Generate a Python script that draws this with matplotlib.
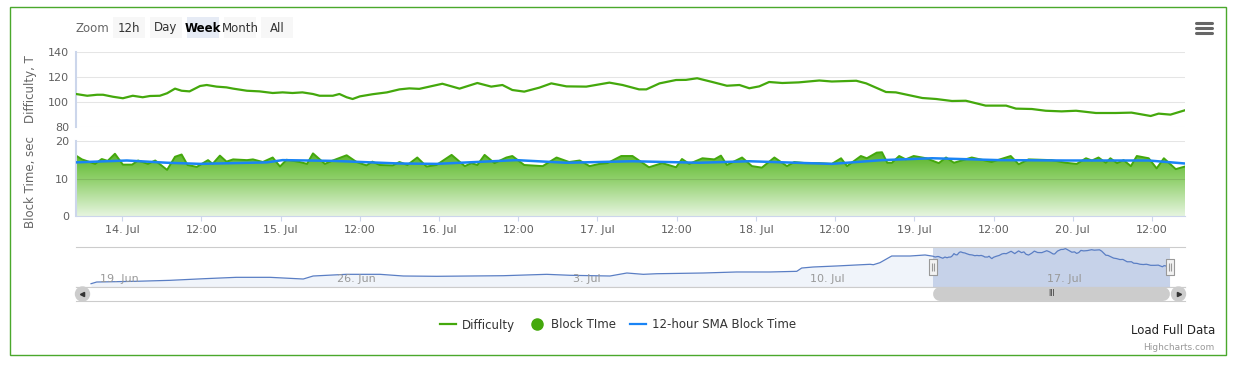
import numpy as np
import pandas as pd
import matplotlib
matplotlib.use('Agg')
import matplotlib.pyplot as plt
import matplotlib.dates as mdates
from matplotlib.colors import LinearSegmentedColormap
from matplotlib.lines import Line2D
from matplotlib.patches import Polygon, Rectangle, Circle
from matplotlib.path import Path
from matplotlib.transforms import blended_transform_factory, offset_copy

W, H = 1235, 371

start = pd.Timestamp('2016-07-13 17:00')   # left edge of the "Week" view
view_hours = 168

# difficulty (T), hours from start
diff_h = [0, 1.7, 3.2, 4.1, 5.6, 7.1, 8.6, 10.1, 11.2, 12.7, 13.8, 15.0, 16.0, 17.2, 18.8, 19.8, 21.3, 22.8, 23.8, 25.9,
          27.8, 29.8, 31.3, 32.8, 34.3, 35.9, 36.9, 38.9, 39.9, 41.0, 41.9, 43.0, 44.9, 47.1, 49.0, 50.5, 52.0, 55.5, 58.1, 60.8,
          62.9, 64.6, 66.1, 67.9, 70.2, 72.0, 74.3, 77.3, 80.8, 82.8, 85.3, 86.4, 88.4, 90.9, 92.4, 94.1, 96.4, 98.6, 100.5, 102.0,
          103.5, 105.0, 107.0, 109.5, 112.6, 114.5, 118.2, 119.7, 122.7, 124.2, 128.2, 130.3, 132.7, 134.8, 137.8, 140.9, 142.4, 144.8, 146.9, 149.3,
          151.5, 154.5, 157.5, 159.9, 162.8, 164.0, 165.8, 168.0]
diff_v = [106.4, 105.0, 105.8, 105.8, 104.2, 103.0, 105.0, 103.8, 104.8, 105.0, 107.0, 110.7, 109.0, 108.5, 112.8, 113.6, 112.3, 111.7, 110.7, 109.0,
          108.5, 107.2, 107.7, 107.2, 107.7, 106.4, 105.0, 105.0, 106.4, 103.8, 102.4, 104.5, 106.2, 107.7, 110.1, 110.9, 110.5, 114.6, 110.7, 115.2,
          112.3, 113.6, 109.6, 108.3, 111.5, 114.9, 112.5, 112.3, 115.5, 113.6, 110.1, 110.1, 114.9, 117.6, 117.7, 119.0, 116.0, 113.0, 113.6, 111.0,
          112.5, 116.0, 115.2, 115.7, 117.2, 116.4, 117.0, 114.9, 108.0, 107.7, 103.2, 102.4, 100.8, 101.0, 97.1, 97.1, 94.7, 94.4, 93.0, 92.5,
          93.0, 91.2, 91.2, 91.5, 88.8, 90.7, 89.9, 93.4]

# block time (sec)
bt_h = [0, 0.9, 2.9, 3.9, 4.8, 5.9, 7.1, 8.5, 9.4, 10.9, 12.0, 13.8, 15.0, 16.0, 16.9, 18.3, 20.0, 20.7, 21.8, 22.8,
        23.8, 25.9, 26.8, 28.3, 29.8, 30.9, 31.9, 33.9, 35.0, 35.9, 37.7, 38.9, 41.0, 42.5, 44.0, 44.9, 46.0, 48.0, 49.0, 50.2,
        51.7, 53.1, 54.6, 56.9, 58.9, 59.9, 60.8, 61.9, 63.4, 65.2, 66.1, 67.9, 70.7, 72.8, 74.7, 76.3, 77.8, 79.3, 80.5, 82.6,
        84.3, 86.8, 88.8, 90.9, 91.8, 92.9, 94.9, 96.7, 97.7, 98.6, 100.9, 102.4, 103.9, 105.8, 107.7, 108.8, 110.5, 112.6, 114.5, 115.9,
        116.8, 118.9, 119.8, 121.3, 122.1, 122.9, 123.6, 124.7, 125.7, 126.9, 128.8, 130.7, 131.8, 133.0, 135.7, 138.7, 141.6, 142.8, 144.3, 147.8,
        149.9, 151.6, 153.0, 153.9, 154.9, 156.0, 156.7, 157.7, 158.7, 159.8, 160.7, 162.5, 163.7, 164.8, 166.6, 168.0]
bt_v = [16.1, 15.1, 13.9, 15.2, 14.7, 16.6, 13.7, 13.7, 14.8, 13.9, 14.8, 12.3, 15.8, 16.4, 13.6, 13.1, 14.9, 13.9, 16.1, 14.5,
        15.1, 14.9, 15.1, 14.4, 15.6, 13.2, 15.0, 14.4, 13.9, 16.7, 13.9, 14.8, 16.2, 14.4, 13.5, 14.5, 13.6, 13.5, 14.4, 13.6,
        15.6, 13.2, 13.6, 16.3, 13.3, 14.1, 13.6, 16.3, 14.1, 15.6, 16.0, 13.6, 13.3, 15.6, 14.4, 14.8, 13.3, 13.9, 14.1, 16.0,
        16.0, 13.0, 14.1, 13.0, 15.2, 13.9, 15.4, 15.1, 16.1, 13.6, 15.6, 13.3, 12.9, 15.6, 13.3, 14.4, 14.1, 14.1, 13.9, 15.4,
        13.3, 16.0, 15.4, 16.9, 17.0, 14.2, 14.2, 16.0, 15.1, 16.0, 15.4, 14.1, 15.6, 14.2, 15.6, 14.4, 16.0, 13.8, 15.1, 14.9,
        14.2, 13.9, 15.4, 14.8, 15.6, 14.2, 15.4, 14.1, 14.9, 13.3, 16.0, 15.4, 12.7, 15.4, 12.5, 13.2]

# 12-hour SMA of block time
sma_h = [0, 7.7, 13.8, 18.8, 28.9, 31.3, 38.9, 49.0, 54.6, 66.7, 74.3, 84.3, 94.4, 102.0, 112.6, 114.5, 122.1, 129.7,
         139.8, 149.9, 162.5, 168.0]
sma_v = [14.3, 14.8, 14.2, 13.9, 14.3, 14.9, 14.7, 14.0, 13.9, 14.9, 14.2, 14.6, 14.2, 14.6, 14.0, 13.9, 14.9, 15.4,
         14.9, 14.8, 14.8, 14.0]

# navigator: difficulty history before the visible week
nav_times = ['2016-06-18 20:00', '2016-06-19 00:00', '2016-06-20 04:00', '2016-06-21 04:00', '2016-06-22 04:00',
             '2016-06-23 03:00', '2016-06-24 03:00', '2016-06-25 02:30', '2016-06-25 09:30', '2016-06-26 09:00',
             '2016-06-27 09:00', '2016-06-28 01:30', '2016-06-29 01:00', '2016-06-30 00:45', '2016-07-01 00:20',
             '2016-07-02 07:10', '2016-07-02 23:40', '2016-07-04 04:00', '2016-07-04 16:00', '2016-07-05 03:40',
             '2016-07-05 13:10', '2016-07-06 22:10', '2016-07-07 21:50', '2016-07-08 21:30', '2016-07-09 16:30',
             '2016-07-09 20:00', '2016-07-10 04:10', '2016-07-10 20:50', '2016-07-11 20:30', '2016-07-11 22:50',
             '2016-07-12 03:30', '2016-07-12 11:50', '2016-07-13 00:50', '2016-07-13 11:30']
nav_vals = [60.6, 63.4, 64.6, 66.2, 68.9, 71.2, 71.2, 68.4, 73.4, 76.2,
            76.2, 73.4, 72.9, 73.4, 73.9, 76.2, 74.6, 73.4, 78.4, 76.2,
            77.2, 78.4, 80.1, 80.1, 81.2, 86.7, 88.4, 90.1, 92.9, 92.2,
            95.6, 106.7, 106.7, 108.4]
nav_range = ['2016-06-18 09:20', '2016-07-21 03:50']
nav_ticks = ['2016-06-19', '2016-06-26', '2016-07-03', '2016-07-10', '2016-07-17']

zoom_buttons = ['12h', 'Day', 'Week', 'Month', 'All']
legend_labels = ['Difficulty', 'Block TIme', '12-hour SMA Block Time']

green = '#44a80c'
blue = '#1a84f5'


def tnum(hours):
    idx = start + pd.to_timedelta(hours, unit='h')
    return mdates.date2num(idx.to_numpy())


def px(x0, y0, x1, y1):
    return [x0 / W, 1 - y1 / H, (x1 - x0) / W, (y1 - y0) / H]


diff_x = tnum(diff_h)
bt_x = tnum(bt_h)
sma_x = tnum(sma_h)
x_start, x_end = tnum([0, view_hours])

fig = plt.figure(figsize=(W / 100, H / 100), dpi=100)
ax1 = fig.add_axes(px(76, 52, 1185, 127))
ax2 = fig.add_axes(px(76, 141, 1185, 216), sharex=ax1)
axn = fig.add_axes(px(76, 247, 1185, 287))
axs = fig.add_axes(px(76, 287, 1185, 301), sharex=axn)

# --- main panels
for ax in (ax1, ax2):
    for s in ('top', 'right'):
        ax.spines[s].set_visible(False)
    ax.spines['left'].set_color('#ccd6eb')
    ax.spines['left'].set_linewidth(1.5)
    ax.tick_params(axis='y', length=0, labelsize=8, labelcolor='#606060', pad=5)
    ax.grid(axis='y', color='k', alpha=0.1, lw=0.8)
    ax.grid(axis='x', visible=False)

ax1.spines['bottom'].set_visible(False)
ax1.tick_params(axis='x', bottom=False, labelbottom=False)
ax1.plot(diff_x, diff_v, color=green, lw=1.6, zorder=3)
ax1.set_ylim(80, 140)
ax1.set_yticks([80, 100, 120, 140])
ax1.set_ylabel('Difficulty, T', fontsize=8.5, color='#666666')
ax1.yaxis.set_label_coords(-0.035, 0.5)

# block time area with vertical gradient
poly_xy = np.column_stack([np.r_[bt_x[0], bt_x, bt_x[-1]], np.r_[0, bt_v, 0]])
clip = Polygon(poly_xy, closed=True, facecolor='none', edgecolor='none', transform=ax2.transData)
ax2.add_patch(clip)
cmap = LinearSegmentedColormap.from_list('bt', ['#e6f5df', '#8fd06a', '#3fa70b'])
grad = np.linspace(0, 1, 256).reshape(-1, 1)
img = ax2.imshow(grad, cmap=cmap, origin='lower', aspect='auto',
                 extent=[x_start, x_end, 0, 20], zorder=1)
img.set_clip_path(clip)
ax2.plot(bt_x, bt_v, color=green, lw=1.4, zorder=2)
ax2.plot(sma_x, sma_v, color=blue, lw=1.8, zorder=3)
ax2.set_ylim(0, 20)
ax2.set_yticks([0, 10, 20])
ax2.set_ylabel('Block Time, sec', fontsize=8.5, color='#666666')
ax2.yaxis.set_label_coords(-0.035, 0.45)
ax2.spines['bottom'].set_color('#ccd6eb')
ax2.xaxis.set_major_locator(mdates.HourLocator(byhour=[0, 12]))


def fmt_main(v, pos):
    d = mdates.num2date(v)
    if d.hour == 0:
        return f'{d.day}. {d:%b}'
    return f'{d:%H:%M}'


ax2.xaxis.set_major_formatter(plt.FuncFormatter(fmt_main))
ax2.tick_params(axis='x', length=3.6, color='#ccd6eb', labelsize=8, labelcolor='#606060', pad=3)
ax1.set_xlim(x_start, x_end)

# --- navigator
nav_x = np.r_[mdates.date2num(pd.to_datetime(nav_times).to_numpy()), diff_x]
nav_y = np.r_[nav_vals, diff_v]
nx0, nx1 = mdates.date2num(pd.to_datetime(nav_range).to_numpy())
axn.fill_between(nav_x, nav_y, 0, color='#f0f4fa', lw=0)
axn.plot(nav_x, nav_y, color='#5a7ec4', lw=0.9)
axn.set_xlim(nx0, nx1)
axn.set_ylim(55.1, 121.7)
tick_x = mdates.date2num(pd.to_datetime(nav_ticks).to_numpy())
axn.set_xticks(tick_x)
axn.set_yticks([])
axn.tick_params(axis='x', length=0, labelbottom=False)
axn.grid(axis='x', color='#e6e6e6', lw=0.8)
for s in ('left', 'right'):
    axn.spines[s].set_visible(False)
for s in ('top', 'bottom'):
    axn.spines[s].set_color('#cccccc')
axn.axvspan(x_start, x_end, color='#6685c2', alpha=0.3, lw=0)
tr = blended_transform_factory(axn.transData, axn.transAxes)
tr_lab = offset_copy(tr, fig=fig, x=3, y=0, units='dots')
for t in pd.to_datetime(nav_ticks):
    axn.text(mdates.date2num(t), 0.19, f'{t.day}. {t:%b}', transform=tr_lab,
             ha='left', va='center', fontsize=8, color='#999999')

# handles
verts = [(-4, -7.5), (4, -7.5), (4, 7.5), (-4, 7.5), (-4, -7.5),
         (-1.3, -4), (-1.3, 4), (1.3, -4), (1.3, 4)]
codes = [Path.MOVETO, Path.LINETO, Path.LINETO, Path.LINETO, Path.CLOSEPOLY,
         Path.MOVETO, Path.LINETO, Path.MOVETO, Path.LINETO]
handle = Path(verts, codes)
axn.plot([x_start, x_end], [0.5, 0.5], transform=tr, ls='none', marker=handle, ms=11,
         mfc='#f2f2f2', mec='#999999', mew=0.8, clip_on=False, zorder=5)

# --- scrollbar
axs.set_ylim(0, 1)
axs.set_xticks([])
axs.set_yticks([])
for s in ('left', 'right'):
    axs.spines[s].set_visible(False)
for s in ('top', 'bottom'):
    axs.spines[s].set_color('#cccccc')
inset = 0.2
axs.plot([x_start + inset, x_end - inset], [0.5, 0.5], lw=10, color='#cccccc', solid_capstyle='round')
axs.text((x_start + x_end) / 2, 0.5, 'III', ha='center', va='center', fontsize=5.5, color='#333333')

# --- overlay (frame, buttons, legend, credits)
ov = fig.add_axes([0, 0, 1, 1], zorder=5)
ov.set_xlim(0, W)
ov.set_ylim(H, 0)
ov.axis('off')
ov.patch.set_visible(False)
ov.add_patch(Rectangle((9.5, 6.5), 1216, 348.5, fill=False, ec='#4aa82c', lw=1))

ov.add_patch(Circle((82.5, 294), 7, color='#cccccc'))
ov.plot([82], [294], marker='<', ms=3, color='#333333')
ov.add_patch(Circle((1178.5, 294), 7, color='#cccccc'))
ov.plot([1179], [294], marker='>', ms=3, color='#333333')

ov.text(75, 28, 'Zoom', ha='left', va='center', fontsize=8.5, color='#666666')
for i, lab in enumerate(zoom_buttons):
    x = 113 + 37 * i
    sel = lab == 'Week'
    ov.add_patch(Rectangle((x, 17), 32, 21, fc='#e6ebf5' if sel else '#f7f7f7', ec='none'))
    ov.text(x + 16, 28, lab, ha='center', va='center', fontsize=8.5, color='#000000' if sel else '#333333',
            weight='bold' if sel else 'normal')

for y in (23.3, 28.3, 33.3):
    ov.plot([1196, 1212], [y, y], lw=2.2, color='#666666', solid_capstyle='round')

handles = [Line2D([], [], color=green, lw=1.6),
           Line2D([], [], ls='none', marker='o', ms=8, color=green),
           Line2D([], [], color=blue, lw=1.6)]
fig.legend(handles, legend_labels, loc='center', bbox_to_anchor=(618 / W, 1 - 325 / H), ncol=3,
           frameon=False, fontsize=8.5, handlelength=1.3, handletextpad=0.5, columnspacing=1.25,
           labelcolor='#333333')

ov.text(1215, 331, 'Load Full Data', ha='right', va='center', fontsize=8.5, color='#222222')
ov.text(1214, 347, 'Highcharts.com', ha='right', va='center', fontsize=6.5, color='#999999')

fig.savefig('out.png', dpi=100)
